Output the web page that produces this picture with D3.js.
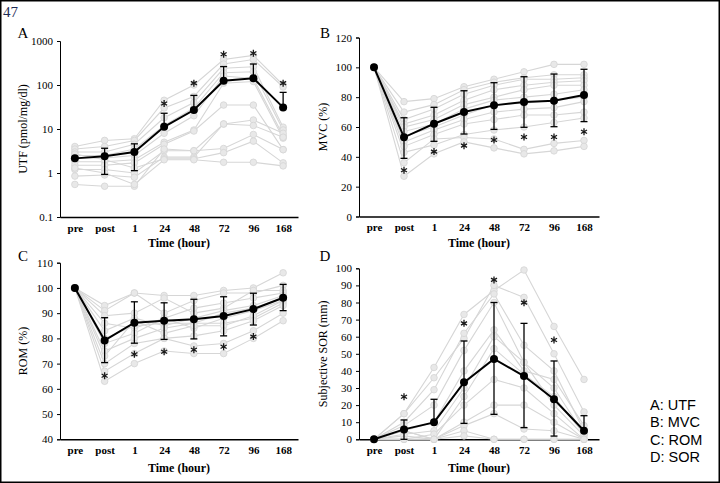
<!DOCTYPE html>
<html><head><meta charset="utf-8">
<script src="https://cdn.jsdelivr.net/npm/d3@7/dist/d3.min.js"></script>
<style>
html,body{margin:0;padding:0;background:#fff;}
svg{display:block;}
</style></head>
<body>
<svg id="c" width="720" height="483"></svg>
<script>
// ---------- data ----------
const timeLabels = ["pre","post","1","24","48","72","96","168"];

// A: UTF (log scale)
const utfTicks = [0.1, 1, 10, 100, 1000];
const utfMean = [2.15, 2.4, 3.0, 11.2, 27, 125, 142, 31];
const utfUpper = [null, 3.65, 4.6, 22.8, 58, 262, 300, 68];
const utfLower = [null, 0.93, 1.13, null, null, null, null, null];
const utfStars = [null, null, null, 38, 110, 500, 525, 110];
const utfSubjects = [
  [4.0, 5.5, 6.0, 45, 100, 380, 470, 100],
  [3.5, 4.0, 5.5, 30, 55, 300, 380, 90],
  [3.0, 3.0, 4.5, 18, 40, 240, 260, 11],
  [2.5, 2.5, 3.5, 12, 30, 190, 200, 9.5],
  [2.2, 2.2, 2.5, 8, 20, 160, 140, 7],
  [1.8, 1.8, 2.0, 5, 9.5, 110, 120, 6.2],
  [1.5, 1.5, 1.7, 4.5, 9, 35, 35, 3.4],
  [1.2, 1.2, 1.0, 3.2, 3.2, 13, 16, 8],
  [0.85, 0.9, 0.8, 2.3, 2.3, 13, 12, 6.5],
  [0.55, 0.5, 0.5, 3.5, 3.2, 3.6, 7.5, 3.4],
  [2.7, 2.0, 1.3, 2.1, 2.1, 2.9, 5.3, 1.7],
  [1.3, 1.0, 0.55, 2.0, 2.0, 1.75, 1.75, 1.45]
];

// B: MVC (%)
const mvcTicks = [0, 20, 40, 60, 80, 100, 120];
const mvcMean = [100, 53.1, 62.2, 70, 74.5, 76.8, 77.6, 81.4];
const mvcUpper = [null, 66.2, 73.2, 84.3, 89.7, 93.7, 95.5, 98.7];
const mvcLower = [null, 39, 50.4, 55.3, 58.4, 59.8, 60.2, 63.6];
const mvcStars = [null, 31, 43.5, 47.5, 51.3, 53.3, 53.3, 56.8];
const mvcSubjects = [
  [100, 77, 79, 87, 92, 97, 102, 102],
  [100, 70, 75, 85, 90, 93, 95, 95],
  [100, 65, 72, 82, 88, 92, 92, 93],
  [100, 62, 68, 78, 85, 88, 90, 91],
  [100, 60, 65, 75, 80, 85, 88, 88],
  [100, 57, 62, 72, 78, 80, 82, 85],
  [100, 54, 60, 68, 75, 76, 78, 80],
  [100, 50, 58, 65, 70, 72, 73, 77],
  [100, 47, 55, 62, 65, 68, 68, 70],
  [100, 43, 48, 55, 58, 60, 63, 66],
  [100, 36, 52, 53, 52, 45, 49, 51],
  [100, 27, 42, 50, 46, 42, 44, 47]
];

// C: ROM (%)
const romTicks = [40, 50, 60, 70, 80, 90, 100, 110];
const romMean = [100, 79.2, 86.2, 87, 87.6, 88.9, 91.6, 96.1];
const romUpper = [null, 88.2, 94.5, 94.1, 95.5, 96.5, 97.9, 101.4];
const romLower = [null, 70.4, 78.1, 79.6, 79.8, 81, 85.3, 91];
const romStars = [null, 65.2, 73.7, 74.7, 75.5, 76.7, 80.7, null];
const romSubjects = [
  [100, 93, 98, 97, 97, 99, 100, 106],
  [100, 91, 98, 90, 95, 98, 98, 101],
  [100, 89, 90, 96, 90, 92, 99, 99],
  [100, 86, 84, 88, 92, 94, 96, 98],
  [100, 83, 88, 85, 88, 91, 93, 97],
  [100, 80, 85, 86, 86, 90, 92, 96],
  [100, 78, 82, 88, 84, 88, 91, 95],
  [100, 75, 80, 84, 86, 86, 88, 94],
  [100, 73, 87, 82, 85, 85, 89, 95],
  [100, 70, 78, 80, 81, 83, 87, 93],
  [100, 67, 74, 80, 77, 78, 83, 90],
  [100, 63, 70, 75, 74, 74, 80, 87]
];

// D: SOR (mm)
const sorTicks = [0, 10, 20, 30, 40, 50, 60, 70, 80, 90, 100];
const sorMean = [0, 5.8, 9.9, 33.3, 47, 37, 23.4, 5.0];
const sorUpper = [null, 11.3, 23.4, 57.5, 80, 67.8, 45.8, 13.8];
const sorLower = [null, 0, null, 9.3, 14.6, 6.8, 1.9, null];
const sorStars = [null, 24.9, null, 67.8, 93.2, 79.9, 58.1, null];
const sorSubjects = [
  [0, 15, 42, 73, 87, 99, 66, 35],
  [0, 15, 36, 59, 90, 83, 50, 16],
  [0, 10, 29, 62, 85, 55, 40, 5],
  [0, 8, 20, 52, 80, 45, 30, 3],
  [0, 5, 10, 40, 64, 40, 35, 8],
  [0, 3, 5, 30, 60, 45, 20, 2],
  [0, 2, 0, 25, 53, 38, 25, 3],
  [0, 0, 3, 20, 35, 30, 15, 0],
  [0, 5, 0, 10, 20, 20, 10, 0],
  [0, 0, 0, 8, 15, 6, 5, 0],
  [0, 5, 0, 5, 0, 0, 0, 0],
  [0, 0, 0, 2, 0, 0, 0, 0]
];

const legendItems = ["A: UTF", "B: MVC", "C: ROM", "D: SOR"];

// ---------- drawing ----------
const svg = d3.select("#c");
const serif = "'Liberation Serif','Times New Roman',serif";

svg.append("rect").attr("x",0.75).attr("y",0.75).attr("width",718.5).attr("height",481.5)
  .attr("fill","#fff").attr("stroke","#000").attr("stroke-width",1.5);

svg.append("text").attr("x",3).attr("y",17).text("47")
  .attr("font-family",serif).attr("font-size",15).attr("fill","#1c2a55");

const panels = [
  {letter:"A", title:"UTF (pmol/mg/dl)", log:true, domain:[0.1,1000], ticks:utfTicks,
   mean:utfMean, upper:utfUpper, lower:utfLower, stars:utfStars, subjects:utfSubjects,
   x0:60, x1:298, yTop:41, yBot:217, letterX:23, letterY:38, titleX:24, xTitleY:247},
  {letter:"B", title:"MVC (%)", log:false, domain:[0,120], ticks:mvcTicks,
   mean:mvcMean, upper:mvcUpper, lower:mvcLower, stars:mvcStars, subjects:mvcSubjects,
   x0:359, x1:599, yTop:37.5, yBot:216.5, letterX:325, letterY:38, titleX:324, xTitleY:247},
  {letter:"C", title:"ROM (%)", log:false, domain:[40,110], ticks:romTicks,
   mean:romMean, upper:romUpper, lower:romLower, stars:romStars, subjects:romSubjects,
   x0:60, x1:298, yTop:262.7, yBot:439.3, letterX:23, letterY:261, titleX:24, xTitleY:472},
  {letter:"D", title:"Subjective SOR (mm)", log:false, domain:[0,100], ticks:sorTicks,
   mean:sorMean, upper:sorUpper, lower:sorLower, stars:sorStars, subjects:sorSubjects,
   x0:359, x1:599, yTop:268.3, yBot:439.3, letterX:325, letterY:261, titleX:324, xTitleY:472}
];

const starPath = d3.symbol().type(d3.symbolAsterisk).size(34)();

panels.forEach(p => {
  const g = svg.append("g");
  const x = d3.scalePoint().domain(timeLabels).range([p.x0, p.x1]).padding(0.5);
  const y = (p.log ? d3.scaleLog() : d3.scaleLinear()).domain(p.domain).range([p.yBot, p.yTop]);

  // y axis
  const yAxis = d3.axisLeft(y).tickValues(p.ticks).tickSize(3).tickPadding(4)
    .tickFormat(d => String(d));
  const ya = g.append("g").attr("transform",`translate(${p.x0},0)`).call(yAxis);
  ya.select(".domain").attr("stroke","#000").attr("stroke-width",1);
  ya.selectAll(".tick line").attr("stroke","#000");
  ya.selectAll("text").attr("font-family",serif).attr("font-size",11).attr("fill","#000");

  // x axis
  const xAxis = d3.axisBottom(x).tickSize(0).tickPadding(7);
  const xa = g.append("g").attr("transform",`translate(0,${p.yBot})`).call(xAxis);
  xa.select(".domain").attr("stroke","#000").attr("stroke-width",1.6);
  xa.selectAll("text").attr("font-family",serif).attr("font-size",11).attr("font-weight","bold").attr("fill","#000");

  // titles
  g.append("text").attr("x",(p.x0+p.x1)/2).attr("y",p.xTitleY).attr("text-anchor","middle")
    .attr("font-family",serif).attr("font-size",12).attr("font-weight","bold").text("Time (hour)");
  g.append("text").attr("transform",`translate(${p.titleX},${(p.yTop+p.yBot)/2}) rotate(-90)`)
    .attr("text-anchor","middle").attr("dominant-baseline","middle")
    .attr("font-family",serif).attr("font-size",12).text(p.title);
  g.append("text").attr("x",p.letterX).attr("y",p.letterY).attr("text-anchor","middle")
    .attr("font-family",serif).attr("font-size",15).text(p.letter);

  // subjects
  const line = d3.line().x((d,i)=>x(timeLabels[i])).y(d=>y(d));
  p.subjects.forEach(s => {
    g.append("path").datum(s).attr("d",line).attr("fill","none")
      .attr("stroke","#d6d6d6").attr("stroke-width",1.1);
  });
  p.subjects.forEach(s => {
    g.selectAll(null).data(s).enter().append("circle")
      .attr("cx",(d,i)=>x(timeLabels[i])).attr("cy",d=>y(d)).attr("r",3.3)
      .attr("fill","#e8e8e8").attr("stroke","#d4d4d4").attr("stroke-width",0.8);
  });

  // error bars
  const cap = 3.5;
  p.mean.forEach((m,i) => {
    const cx = x(timeLabels[i]);
    const up = p.upper[i], lo = p.lower[i];
    if (up != null) {
      g.append("line").attr("x1",cx).attr("x2",cx).attr("y1",y(m)).attr("y2",y(up)).attr("stroke","#000").attr("stroke-width",1.3);
      g.append("line").attr("x1",cx-cap).attr("x2",cx+cap).attr("y1",y(up)).attr("y2",y(up)).attr("stroke","#000").attr("stroke-width",1.3);
    }
    if (lo != null) {
      g.append("line").attr("x1",cx).attr("x2",cx).attr("y1",y(m)).attr("y2",y(lo)).attr("stroke","#000").attr("stroke-width",1.3);
      g.append("line").attr("x1",cx-cap).attr("x2",cx+cap).attr("y1",y(lo)).attr("y2",y(lo)).attr("stroke","#000").attr("stroke-width",1.3);
    }
  });

  // mean line
  g.append("path").datum(p.mean).attr("d",line).attr("fill","none").attr("stroke","#000").attr("stroke-width",2);
  g.selectAll(null).data(p.mean).enter().append("circle")
    .attr("cx",(d,i)=>x(timeLabels[i])).attr("cy",d=>y(d)).attr("r",4).attr("fill","#000");

  // significance stars
  p.stars.forEach((s,i) => {
    if (s == null) return;
    g.append("path").attr("d",starPath)
      .attr("transform",`translate(${x(timeLabels[i])},${y(s)})`)
      .attr("fill","none").attr("stroke","#1a1a1a").attr("stroke-width",1.3);
  });
});

// legend
const lg = svg.append("g");
legendItems.forEach((t,i) => {
  lg.append("text").attr("x",650).attr("y",410 + i*17.3).text(t)
    .attr("font-family","'Liberation Sans',Arial,sans-serif").attr("font-size",14.5).attr("fill","#000");
});
</script>
</body></html>
